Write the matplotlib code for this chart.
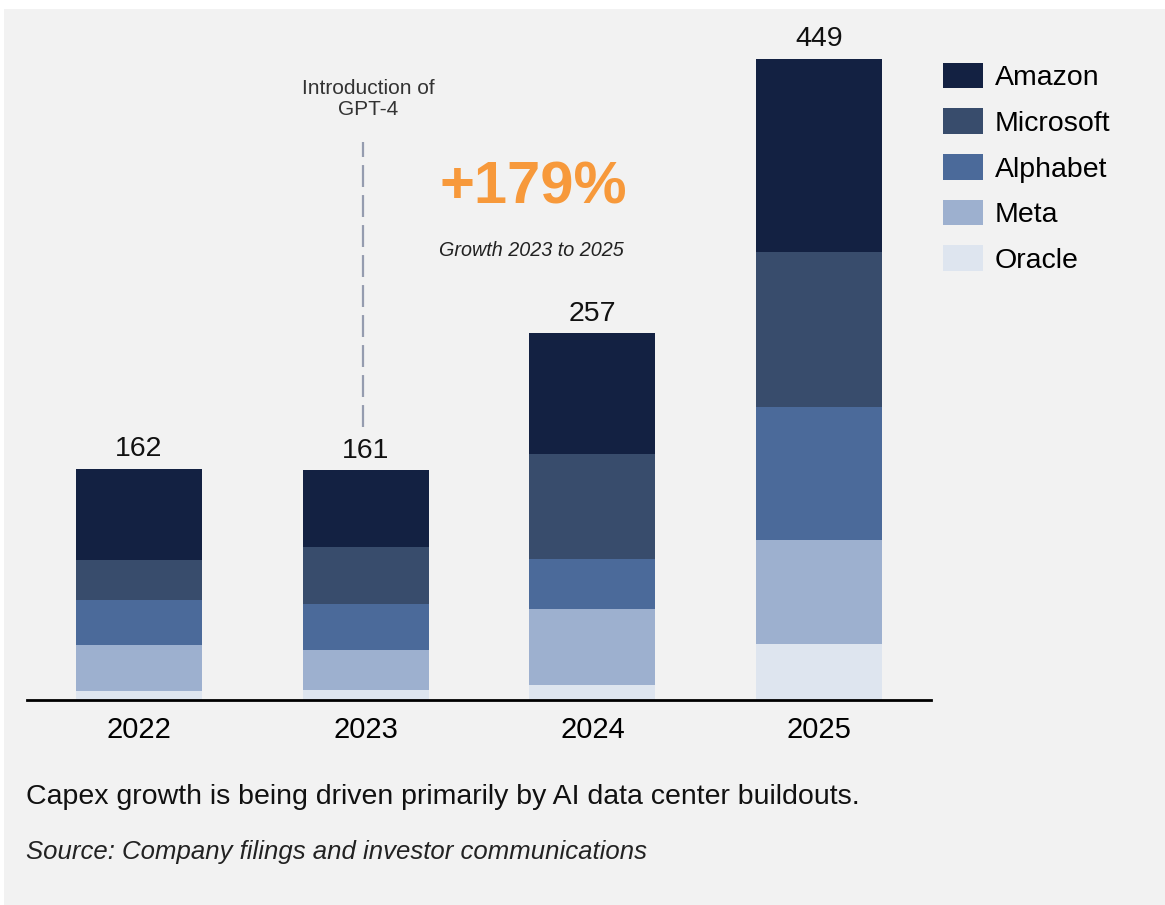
import matplotlib.pyplot as plt
from matplotlib.patches import Patch, Rectangle

plt.rcParams['font.family'] = ['Liberation Sans', 'DejaVu Sans']
plt.rcParams['lines.scale_dashes'] = False

years = ['2022', '2023', '2024', '2025']
companies = ['Amazon', 'Microsoft', 'Alphabet', 'Meta', 'Oracle']
amazon = [64, 53.5, 84.5, 135]
microsoft = [28, 40, 73.5, 109]
alphabet = [31.5, 32.5, 35.5, 93]
meta = [32.5, 28, 53, 72.5]
oracle = [6, 7, 10.5, 39.5]
totals = [162, 161, 257, 449]

colors = {'Amazon': '#132142', 'Microsoft': '#384c6c', 'Alphabet': '#4b6a9a',
          'Meta': '#9db0cf', 'Oracle': '#dee5ef'}

fig = plt.figure(figsize=(11.65, 9.05), dpi=100)
fig.patch.set_facecolor('white')
# grey panel behind everything (thin white margin top/left like the source)
fig.patches.append(Rectangle((4/1165, 0), 1, 1 - 9/905, transform=fig.transFigure,
                             facecolor='#f2f2f2', edgecolor='none', zorder=-10))

ax = fig.add_axes([0.0232, 0.2265, 0.776, 0.7515])
ax.set_facecolor('none')

x = list(range(len(years)))
series = {'Oracle': oracle, 'Meta': meta, 'Alphabet': alphabet,
          'Microsoft': microsoft, 'Amazon': amazon}
bottom = [0] * len(years)
for name in ['Oracle', 'Meta', 'Alphabet', 'Microsoft', 'Amazon']:
    vals = series[name]
    ax.bar(x, vals, width=0.555, bottom=bottom, color=colors[name], linewidth=0)
    bottom = [b + v for b, v in zip(bottom, vals)]

for i, t in enumerate(totals):
    ax.text(i, bottom[i] + 4.5, str(t), ha='center', va='bottom', fontsize=20.5, color='#111111')

ax.set_xlim(-0.494, 3.494)
ax.set_ylim(0, 476.3)
ax.set_xticks(x)
ax.set_xticklabels(years, fontsize=21)
ax.tick_params(axis='x', length=0, pad=11.5)
ax.set_yticks([])
for s in ['top', 'right', 'left']:
    ax.spines[s].set_visible(False)
ax.spines['bottom'].set_linewidth(2)
ax.spines['bottom'].set_color('black')

# GPT-4 marker
ax.plot([0.987, 0.987], [totals[1] + 30, 390.5], color='#959caf', lw=1.6,
        dashes=(15.8, 5.8), solid_capstyle='butt', dash_capstyle='butt')
ax.text(1.01, 421, 'Introduction of\nGPT-4', ha='center', va='center',
        fontsize=15, color='#333333', linespacing=1.1)

ax.text(1.738, 358.6, '+179%', ha='center', va='center', fontsize=43,
        fontweight='bold', color='#f7993b')
ax.text(1.729, 315, 'Growth 2023 to 2025', ha='center', va='center',
        fontsize=14.2, style='italic', color='#222222')

handles = [Patch(facecolor=colors[c], edgecolor='none') for c in companies]
fig.legend(handles, companies, loc='upper left', bbox_to_anchor=(0.8094, 0.9305),
           frameon=False, fontsize=20.5, borderpad=0, borderaxespad=0,
           handlelength=1.4, handleheight=1.0, handletextpad=0.42,
           labelspacing=0.6)

fig.text(26/1165, 1 - 797/905, 'Capex growth is being driven primarily by AI data center buildouts.',
         fontsize=20.5, va='center', ha='left', color='#111111')
fig.text(26/1165, 1 - 852/905, 'Source: Company filings and investor communications',
         fontsize=18.5, va='center', ha='left', style='italic', color='#222222')

fig.savefig('out.png', dpi=100, facecolor=fig.get_facecolor())
